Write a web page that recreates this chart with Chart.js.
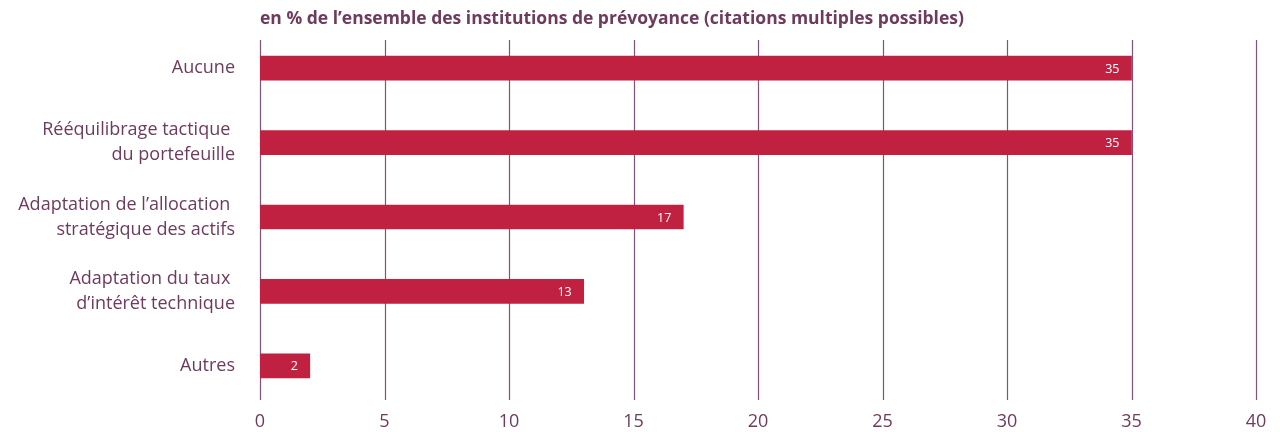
<!DOCTYPE html>
<html>
<head>
<meta charset="utf-8">
<script src="https://cdn.jsdelivr.net/npm/chart.js@4"></script>
<style>
  html, body { margin: 0; padding: 0; background: #fff; }
  #wrap { width: 1280px; height: 432px; position: relative; }
</style>
</head>
<body>
<div id="wrap"><canvas id="grafico"></canvas></div>
<script>
const titre = "en % de l\u2019ensemble des institutions de prévoyance (citations multiples possibles)";

const categories = [
  ["Aucune"],
  ["Rééquilibrage tactique ", "du portefeuille"],
  ["Adaptation de l\u2019allocation ", "stratégique des actifs"],
  ["Adaptation du taux ", "d\u2019intérêt technique"],
  ["Autres"]
];
const valeurs = [35, 35, 17, 13, 2];
const ticks = [0, 5, 10, 15, 20, 25, 30, 35, 40];

const violet = '#6e3a5e';
const rouge = '#c02140';
const police = '"Open Sans", "Noto Sans", sans-serif';

// titre + grille verticale + étiquettes de valeur
const decor = {
  id: 'decor',
  beforeDatasetsDraw(chart) {
    const { ctx, chartArea, scales } = chart;
    ctx.save();
    ctx.strokeStyle = '#83527a';
    ctx.lineWidth = 1.2;
    ticks.forEach(t => {
      const x = Math.round(scales.x.getPixelForValue(t)) + 0.5;
      ctx.beginPath();
      ctx.moveTo(x, 40);
      ctx.lineTo(x, chartArea.bottom - 3);
      ctx.stroke();
    });
    ctx.restore();
  },
  afterDatasetsDraw(chart) {
    const { ctx, chartArea } = chart;
    ctx.save();
    ctx.fillStyle = violet;
    ctx.font = 'bold 17.5px ' + police;
    ctx.textBaseline = 'middle';
    ctx.textAlign = 'left';
    ctx.fillText(titre, chartArea.left, 19);

    ctx.fillStyle = '#fff';
    ctx.font = '12.5px ' + police;
    ctx.textAlign = 'right';
    chart.getDatasetMeta(0).data.forEach((bar, i) => {
      ctx.fillText(String(valeurs[i]), bar.x - 12, bar.y + 1);
    });
    ctx.restore();
  }
};

const sansMarge = s => {
  s.paddingTop = 0; s.paddingBottom = 0;
  s.paddingLeft = 0; s.paddingRight = 0;
};

const ctx = document.getElementById('grafico');

const grafico = new Chart(ctx, {
  type: 'bar',
  data: {
    labels: categories,
    datasets: [{
      data: valeurs,
      backgroundColor: rouge,
      barThickness: 24
    }]
  },
  options: {
    indexAxis: 'y',
    responsive: true,
    maintainAspectRatio: false,
    animation: false,
    layout: { padding: { top: 31, right: 24, bottom: 0, left: 0 } },
    plugins: {
      legend: { display: false },
      tooltip: { enabled: false }
    },
    scales: {
      x: {
        min: 0,
        max: 40,
        afterBuildTicks: s => { s.ticks = ticks.map(v => ({ value: v })); },
        afterFit: s => { s.height = 29; sansMarge(s); },
        grid: { display: false, drawTicks: false },
        border: { display: false },
        ticks: {
          color: violet,
          padding: 8,
          font: { family: police, size: 18 }
        }
      },
      y: {
        afterFit: s => { s.width = 260; sansMarge(s); },
        grid: { display: false, drawTicks: false },
        border: { display: false },
        ticks: {
          color: violet,
          padding: 25,
          font: { family: police, size: 18, lineHeight: 1.4 }
        }
      }
    }
  },
  plugins: [decor]
});
</script>
</body>
</html>
